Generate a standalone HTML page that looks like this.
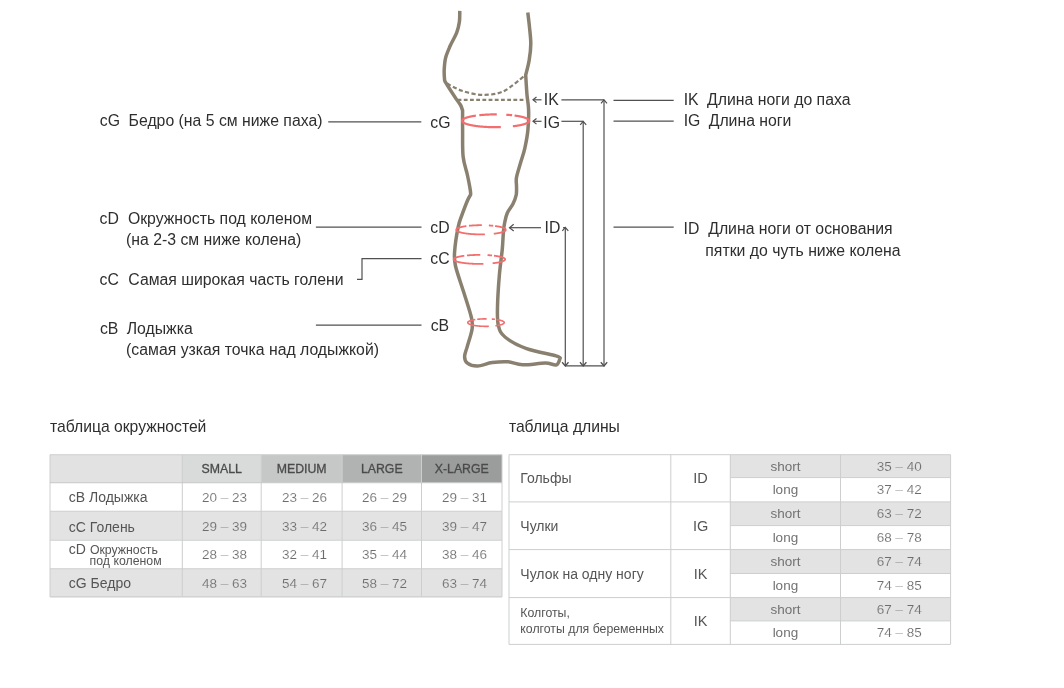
<!DOCTYPE html>
<html><head><meta charset="utf-8"><style>
html,body{margin:0;padding:0;background:#fff;width:1064px;height:688px;overflow:hidden}
svg{position:absolute;left:0;top:0;font-family:"Liberation Sans",sans-serif;will-change:transform}
</style></head><body>
<svg width="1064" height="688" viewBox="0 0 1064 688">
<rect x="50" y="454.7" width="132.3" height="28.0" fill="#e2e2e2"/>
<rect x="182.3" y="454.7" width="78.89999999999998" height="28.0" fill="#d9dbdb"/>
<rect x="261.2" y="454.7" width="80.90000000000003" height="28.0" fill="#c6c7c7"/>
<rect x="342.1" y="454.7" width="79.39999999999998" height="28.0" fill="#b1b2b2"/>
<rect x="421.5" y="454.7" width="80.5" height="28.0" fill="#9b9c9c"/>
<rect x="50" y="482.7" width="452" height="28.600000000000023" fill="#ffffff"/>
<rect x="50" y="511.3" width="452" height="28.900000000000034" fill="#e3e3e3"/>
<rect x="50" y="540.2" width="452" height="28.59999999999991" fill="#ffffff"/>
<rect x="50" y="568.8" width="452" height="28.100000000000023" fill="#e3e3e3"/>
<line x1="50" y1="454.7" x2="50" y2="596.9" stroke="#cdcece" stroke-width="1"/>
<line x1="182.3" y1="454.7" x2="182.3" y2="596.9" stroke="#cdcece" stroke-width="1"/>
<line x1="261.2" y1="454.7" x2="261.2" y2="596.9" stroke="#cdcece" stroke-width="1"/>
<line x1="342.1" y1="454.7" x2="342.1" y2="596.9" stroke="#cdcece" stroke-width="1"/>
<line x1="421.5" y1="454.7" x2="421.5" y2="596.9" stroke="#cdcece" stroke-width="1"/>
<line x1="502" y1="454.7" x2="502" y2="596.9" stroke="#cdcece" stroke-width="1"/>
<line x1="50" y1="454.7" x2="502" y2="454.7" stroke="#cdcece" stroke-width="1.1"/>
<line x1="50" y1="482.7" x2="502" y2="482.7" stroke="#c4c5c5" stroke-width="1.1"/>
<line x1="50" y1="511.3" x2="502" y2="511.3" stroke="#cdcece" stroke-width="1.1"/>
<line x1="50" y1="540.2" x2="502" y2="540.2" stroke="#cdcece" stroke-width="1.1"/>
<line x1="50" y1="568.8" x2="502" y2="568.8" stroke="#cdcece" stroke-width="1.1"/>
<line x1="50" y1="596.9" x2="502" y2="596.9" stroke="#cdcece" stroke-width="1.1"/>
<text x="221.75" y="473.1" font-size="12.3" fill="#4a4a4a" text-anchor="middle" stroke="#4a4a4a" stroke-width="0.3">SMALL</text>
<text x="301.65" y="473.1" font-size="12.3" fill="#4a4a4a" text-anchor="middle" stroke="#4a4a4a" stroke-width="0.3">MEDIUM</text>
<text x="381.8" y="473.1" font-size="12.3" fill="#4a4a4a" text-anchor="middle" stroke="#4a4a4a" stroke-width="0.3">LARGE</text>
<text x="461.75" y="473.1" font-size="12.3" fill="#4a4a4a" text-anchor="middle" stroke="#4a4a4a" stroke-width="0.3">X-LARGE</text>
<text x="224.5" y="501.8" font-size="13.5" fill="#6c6c6c" text-anchor="middle" stroke="#ffffff" stroke-width="0.15">20 – 23</text>
<text x="304.4" y="501.8" font-size="13.5" fill="#6c6c6c" text-anchor="middle" stroke="#ffffff" stroke-width="0.15">23 – 26</text>
<text x="384.55" y="501.8" font-size="13.5" fill="#6c6c6c" text-anchor="middle" stroke="#ffffff" stroke-width="0.15">26 – 29</text>
<text x="464.5" y="501.8" font-size="13.5" fill="#6c6c6c" text-anchor="middle" stroke="#ffffff" stroke-width="0.15">29 – 31</text>
<text x="224.5" y="530.55" font-size="13.5" fill="#6c6c6c" text-anchor="middle" stroke="#e3e3e3" stroke-width="0.15">29 – 39</text>
<text x="304.4" y="530.55" font-size="13.5" fill="#6c6c6c" text-anchor="middle" stroke="#e3e3e3" stroke-width="0.15">33 – 42</text>
<text x="384.55" y="530.55" font-size="13.5" fill="#6c6c6c" text-anchor="middle" stroke="#e3e3e3" stroke-width="0.15">36 – 45</text>
<text x="464.5" y="530.55" font-size="13.5" fill="#6c6c6c" text-anchor="middle" stroke="#e3e3e3" stroke-width="0.15">39 – 47</text>
<text x="224.5" y="559.3" font-size="13.5" fill="#6c6c6c" text-anchor="middle" stroke="#ffffff" stroke-width="0.15">28 – 38</text>
<text x="304.4" y="559.3" font-size="13.5" fill="#6c6c6c" text-anchor="middle" stroke="#ffffff" stroke-width="0.15">32 – 41</text>
<text x="384.55" y="559.3" font-size="13.5" fill="#6c6c6c" text-anchor="middle" stroke="#ffffff" stroke-width="0.15">35 – 44</text>
<text x="464.5" y="559.3" font-size="13.5" fill="#6c6c6c" text-anchor="middle" stroke="#ffffff" stroke-width="0.15">38 – 46</text>
<text x="224.5" y="587.6499999999999" font-size="13.5" fill="#6c6c6c" text-anchor="middle" stroke="#e3e3e3" stroke-width="0.15">48 – 63</text>
<text x="304.4" y="587.6499999999999" font-size="13.5" fill="#6c6c6c" text-anchor="middle" stroke="#e3e3e3" stroke-width="0.15">54 – 67</text>
<text x="384.55" y="587.6499999999999" font-size="13.5" fill="#6c6c6c" text-anchor="middle" stroke="#e3e3e3" stroke-width="0.15">58 – 72</text>
<text x="464.5" y="587.6499999999999" font-size="13.5" fill="#6c6c6c" text-anchor="middle" stroke="#e3e3e3" stroke-width="0.15">63 – 74</text>
<text x="68.8" y="502.3" font-size="14" fill="#555" text-anchor="start" >cB Лодыжка</text>
<text x="68.8" y="532.2" font-size="14" fill="#555" text-anchor="start" >cC Голень</text>
<text x="68.8" y="553.7" font-size="14" fill="#555" text-anchor="start" >cD</text>
<text x="89.9" y="553.7" font-size="12.3" fill="#555" text-anchor="start" >Окружность</text>
<text x="89.6" y="564.7" font-size="12.3" fill="#555" text-anchor="start" >под коленом</text>
<text x="68.8" y="587.5" font-size="14" fill="#555" text-anchor="start" >cG Бедро</text>
<rect x="730.3" y="454.7" width="220.30000000000007" height="22.900000000000034" fill="#e3e3e3"/>
<rect x="730.3" y="477.6" width="220.30000000000007" height="24.299999999999955" fill="#ffffff"/>
<rect x="730.3" y="501.9" width="220.30000000000007" height="23.700000000000045" fill="#e3e3e3"/>
<rect x="730.3" y="525.6" width="220.30000000000007" height="24.0" fill="#ffffff"/>
<rect x="730.3" y="549.6" width="220.30000000000007" height="23.899999999999977" fill="#e3e3e3"/>
<rect x="730.3" y="573.5" width="220.30000000000007" height="24.100000000000023" fill="#ffffff"/>
<rect x="730.3" y="597.6" width="220.30000000000007" height="23.299999999999955" fill="#e3e3e3"/>
<rect x="730.3" y="620.9" width="220.30000000000007" height="23.5" fill="#ffffff"/>
<line x1="509" y1="454.7" x2="509" y2="644.4" stroke="#cdcece" stroke-width="1"/>
<line x1="670.8" y1="454.7" x2="670.8" y2="644.4" stroke="#cdcece" stroke-width="1"/>
<line x1="730.3" y1="454.7" x2="730.3" y2="644.4" stroke="#cdcece" stroke-width="1"/>
<line x1="840.5" y1="454.7" x2="840.5" y2="644.4" stroke="#cdcece" stroke-width="1"/>
<line x1="950.6" y1="454.7" x2="950.6" y2="644.4" stroke="#cdcece" stroke-width="1"/>
<line x1="509" y1="454.7" x2="950.6" y2="454.7" stroke="#cdcece" stroke-width="1"/>
<line x1="730.3" y1="477.6" x2="950.6" y2="477.6" stroke="#cdcece" stroke-width="1"/>
<line x1="509" y1="501.9" x2="950.6" y2="501.9" stroke="#cdcece" stroke-width="1"/>
<line x1="730.3" y1="525.6" x2="950.6" y2="525.6" stroke="#cdcece" stroke-width="1"/>
<line x1="509" y1="549.6" x2="950.6" y2="549.6" stroke="#cdcece" stroke-width="1"/>
<line x1="730.3" y1="573.5" x2="950.6" y2="573.5" stroke="#cdcece" stroke-width="1"/>
<line x1="509" y1="597.6" x2="950.6" y2="597.6" stroke="#cdcece" stroke-width="1"/>
<line x1="730.3" y1="620.9" x2="950.6" y2="620.9" stroke="#cdcece" stroke-width="1"/>
<line x1="509" y1="644.4" x2="950.6" y2="644.4" stroke="#cdcece" stroke-width="1"/>
<text x="520.3" y="482.6" font-size="14" fill="#555" text-anchor="start" >Гольфы</text>
<text x="700.55" y="482.6" font-size="14.5" fill="#555" text-anchor="middle" >ID</text>
<text x="520.3" y="530.6" font-size="14" fill="#555" text-anchor="start" >Чулки</text>
<text x="700.55" y="530.6" font-size="14.5" fill="#555" text-anchor="middle" >IG</text>
<text x="520.3" y="578.5" font-size="14" fill="#555" text-anchor="start" >Чулок на одну ногу</text>
<text x="700.55" y="578.5" font-size="14.5" fill="#555" text-anchor="middle" >IK</text>
<text x="520.3" y="616.6" font-size="12.3" fill="#555" text-anchor="start" >Колготы,</text>
<text x="520.3" y="632.9" font-size="12.3" fill="#555" text-anchor="start" >колготы для беременных</text>
<text x="700.55" y="625.9" font-size="14.5" fill="#555" text-anchor="middle" >IK</text>
<text x="785.4" y="470.75" font-size="13.5" fill="#727272" text-anchor="middle" >short</text>
<text x="899.3" y="470.75" font-size="13.5" fill="#6c6c6c" text-anchor="middle" stroke="#e3e3e3" stroke-width="0.15">35 – 40</text>
<text x="785.4" y="494.35" font-size="13.5" fill="#727272" text-anchor="middle" >long</text>
<text x="899.3" y="494.35" font-size="13.5" fill="#6c6c6c" text-anchor="middle" stroke="#ffffff" stroke-width="0.15">37 – 42</text>
<text x="785.4" y="518.35" font-size="13.5" fill="#727272" text-anchor="middle" >short</text>
<text x="899.3" y="518.35" font-size="13.5" fill="#6c6c6c" text-anchor="middle" stroke="#e3e3e3" stroke-width="0.15">63 – 72</text>
<text x="785.4" y="542.2" font-size="13.5" fill="#727272" text-anchor="middle" >long</text>
<text x="899.3" y="542.2" font-size="13.5" fill="#6c6c6c" text-anchor="middle" stroke="#ffffff" stroke-width="0.15">68 – 78</text>
<text x="785.4" y="566.15" font-size="13.5" fill="#727272" text-anchor="middle" >short</text>
<text x="899.3" y="566.15" font-size="13.5" fill="#6c6c6c" text-anchor="middle" stroke="#e3e3e3" stroke-width="0.15">67 – 74</text>
<text x="785.4" y="590.15" font-size="13.5" fill="#727272" text-anchor="middle" >long</text>
<text x="899.3" y="590.15" font-size="13.5" fill="#6c6c6c" text-anchor="middle" stroke="#ffffff" stroke-width="0.15">74 – 85</text>
<text x="785.4" y="613.85" font-size="13.5" fill="#727272" text-anchor="middle" >short</text>
<text x="899.3" y="613.85" font-size="13.5" fill="#6c6c6c" text-anchor="middle" stroke="#e3e3e3" stroke-width="0.15">67 – 74</text>
<text x="785.4" y="637.25" font-size="13.5" fill="#727272" text-anchor="middle" >long</text>
<text x="899.3" y="637.25" font-size="13.5" fill="#6c6c6c" text-anchor="middle" stroke="#ffffff" stroke-width="0.15">74 – 85</text>
<path d="M459.8,10.9 C459.7,12.7 459.9,18.2 459.4,21.8 C458.9,25.4 458.2,28.7 456.7,32.7 C455.2,36.7 452.0,41.6 450.2,45.8 C448.4,50.0 446.6,53.8 445.6,57.8 C444.6,61.8 444.4,66.3 444.2,70.0 C444.0,73.7 444.5,78.5 444.6,80.2 C444.9,80.7 444.2,80.2 446.2,83.4 C448.1,86.6 453.9,95.5 456.3,99.1 C458.7,102.7 459.4,103.1 460.5,105.0 C461.6,106.9 462.2,109.6 462.6,110.5 C462.6,113.8 462.5,122.3 462.6,130.0 C462.7,137.7 462.3,149.0 463.1,156.5 C463.9,164.0 466.2,169.4 467.4,175.0 C468.6,180.6 469.8,186.9 470.3,190.2 C470.8,193.5 470.6,193.9 470.6,194.7 C470.1,195.7 468.9,197.2 467.4,200.7 C465.9,204.2 463.2,211.4 461.6,215.8 C460.1,220.2 459.3,221.4 458.1,227.4 C456.9,233.4 455.0,245.6 454.6,252.0 C454.2,258.4 454.0,259.4 455.5,266.0 C457.0,272.6 460.8,282.9 463.5,291.6 C466.2,300.3 470.1,311.7 471.5,318.0 C472.9,324.3 472.7,324.7 472.0,329.4 C471.3,334.1 468.5,341.9 467.3,346.4 C466.1,350.9 464.6,353.6 464.6,356.4 C464.6,359.2 465.2,361.5 467.4,363.1 C469.5,364.7 473.4,366.1 477.5,366.0 C481.6,365.9 487.1,363.3 492.2,362.6 C497.3,361.9 502.9,361.4 508.0,361.8 C513.1,362.2 516.4,364.6 522.6,364.8 C528.8,365.0 539.6,363.1 545.2,363.1 C550.9,363.1 554.0,365.7 556.5,364.8 C559.0,363.9 559.6,359.1 560.2,358.0 C559.5,357.6 561.7,357.5 556.0,355.9 C550.3,354.3 534.4,351.4 525.9,348.3 C517.4,345.2 509.6,340.8 505.0,337.0 C500.4,333.2 499.6,330.7 498.4,325.6 C497.1,320.6 497.3,315.2 497.5,306.7 C497.7,298.2 498.6,284.1 499.4,274.6 C500.2,265.2 501.5,257.1 502.2,250.0 C502.9,242.9 503.0,236.7 503.4,232.0 C503.8,227.3 504.1,225.2 504.8,222.0 C505.5,218.8 506.0,216.0 507.3,213.0 C508.6,210.0 511.3,207.2 512.8,204.2 C514.3,201.2 515.6,198.0 516.2,195.0 C516.8,192.0 516.5,188.9 516.5,186.0 C516.5,183.1 515.8,181.2 516.5,177.4 C517.2,173.6 519.1,167.8 520.5,163.0 C521.9,158.2 523.6,153.8 524.8,148.3 C526.0,142.8 527.3,136.4 527.9,130.0 C528.5,123.6 528.8,115.9 528.6,110.0 C528.5,104.1 527.5,100.6 527.0,94.8 C526.5,89.0 525.9,78.4 525.7,75.1 C526.3,72.6 528.4,65.2 529.2,60.0 C530.1,54.8 530.8,49.1 530.8,43.6 C530.8,38.1 530.0,32.5 529.5,27.3 C529.0,22.1 528.1,15.0 527.8,12.5" fill="none" stroke="#8a8070" stroke-width="3.5" stroke-linejoin="round"/>
<path d="M447.1,83.6 C449.6,84.8 456.2,88.9 462.0,90.8 C467.8,92.7 475.2,94.7 482.0,94.8 C488.8,94.9 495.9,94.6 503.0,91.5 C510.1,88.4 520.8,78.6 524.4,76.0" fill="none" stroke="#8a8070" stroke-width="2.2" stroke-dasharray="4.2 2.4"/>
<line x1="457.6" y1="99.8" x2="525.7" y2="99.8" stroke="#8a8070" stroke-width="2.2" stroke-dasharray="3.8 2.4"/>
<path d="M529.10,120.80L529.10,120.74L529.09,120.69L529.09,120.63L529.08,120.58L529.07,120.52L529.05,120.47L529.04,120.41L529.02,120.35L529.00,120.30L528.97,120.24L528.95,120.19L528.92,120.13L528.88,120.08L528.85,120.02L528.81,119.96L528.77,119.91L528.73,119.85L528.69,119.80L528.64,119.74L528.59,119.69L528.54,119.63L528.48,119.58L528.43,119.52L528.37,119.47L528.31,119.41L528.24,119.36L528.17,119.31L528.10,119.25L528.03,119.20L527.96,119.14L527.88,119.09L527.80,119.04L527.72,118.98L527.64,118.93L527.55,118.88L527.46,118.82L527.37,118.77L527.27,118.72L527.18,118.66L527.08,118.61L526.98,118.56L526.87,118.51L526.77,118.45L526.66,118.40L526.55,118.35L526.44,118.30L526.32,118.25L526.20,118.20L526.08,118.15L525.96,118.10L525.84,118.04L525.71,117.99L525.58,117.94L525.45,117.89L525.31,117.84L525.18,117.80L525.04,117.75L524.90,117.70L524.76,117.65L524.61,117.60L524.46,117.55L524.32,117.50L524.16,117.46L524.01,117.41L523.85,117.36L523.70,117.31L523.54,117.27L523.37,117.22L523.21,117.18L523.04,117.13L522.87,117.08L522.70,117.04L522.53,116.99L522.35,116.95L522.18,116.90L522.00,116.86L521.82,116.82L521.63,116.77L521.45,116.73L521.26,116.69L521.07,116.64L520.88,116.60L520.69,116.56L520.50,116.52L520.30,116.48L520.10,116.44L519.90,116.39L519.70,116.35L519.49,116.31L519.29,116.27L519.08,116.24L518.87,116.20L518.66,116.16L518.45,116.12L518.23,116.08L518.02,116.04L517.80,116.01L517.58,115.97L517.36,115.93L517.13,115.90L516.91,115.86L516.68,115.83L516.45,115.79L516.22,115.76L515.99,115.72L515.76,115.69L515.53,115.66L515.29,115.62L515.05,115.59L514.81,115.56L514.57,115.53M512.10,115.23L511.84,115.20L511.58,115.18L511.33,115.15L511.07,115.12L510.81,115.10L510.55,115.07L510.29,115.05L510.02,115.02L509.76,115.00L509.49,114.98L509.23,114.95L508.96,114.93L508.69,114.91L508.42,114.89L508.15,114.87L507.88,114.85L507.61,114.83L507.33,114.81L507.06,114.79L506.78,114.77L506.51,114.75L506.23,114.73M496.77,114.40L496.48,114.40L496.18,114.40L495.89,114.40L495.60,114.40L495.31,114.40L495.02,114.40L494.72,114.40L494.43,114.40L494.14,114.41L493.85,114.41L493.55,114.41L493.26,114.42L492.97,114.42L492.68,114.42L492.39,114.43L492.10,114.44L491.81,114.44L491.52,114.45L491.23,114.45L490.94,114.46L490.65,114.47L490.36,114.48L490.07,114.49L489.78,114.50L489.50,114.51L489.21,114.52L488.92,114.53L488.63,114.54L488.35,114.55L488.06,114.56L487.78,114.58L487.50,114.59L487.21,114.60L486.93,114.62L486.65,114.63L486.37,114.65L486.09,114.66L485.81,114.68L485.53,114.70L485.25,114.71L484.97,114.73L484.69,114.75L484.42,114.77L484.14,114.79L483.87,114.81L483.59,114.83L483.32,114.85L483.05,114.87L482.78,114.89L482.51,114.91L482.24,114.93L481.97,114.95L481.71,114.98L481.44,115.00L481.18,115.02L480.91,115.05L480.65,115.07L480.39,115.10L480.13,115.12L479.87,115.15L479.62,115.18L479.36,115.20M475.91,115.62L475.67,115.66L475.44,115.69L475.21,115.72L474.98,115.76L474.75,115.79L474.52,115.83L474.29,115.86L474.07,115.90L473.84,115.93L473.62,115.97L473.40,116.01L473.18,116.04L472.97,116.08L472.75,116.12L472.54,116.16L472.33,116.20L472.12,116.24L471.91,116.27L471.71,116.31L471.50,116.35L471.30,116.39L471.10,116.44L470.90,116.48L470.70,116.52L470.51,116.56L470.32,116.60L470.13,116.64L469.94,116.69L469.75,116.73L469.57,116.77L469.38,116.82L469.20,116.86L469.02,116.90L468.85,116.95L468.67,116.99L468.50,117.04L468.33,117.08L468.16,117.13L467.99,117.18L467.83,117.22L467.66,117.27L467.50,117.31L467.35,117.36L467.19,117.41L467.04,117.46L466.88,117.50L466.74,117.55L466.59,117.60L466.44,117.65L466.30,117.70L466.16,117.75L466.02,117.80L465.89,117.84L465.75,117.89L465.62,117.94L465.49,117.99L465.36,118.04L465.24,118.10L465.12,118.15L465.00,118.20L464.88,118.25L464.76,118.30L464.65,118.35L464.54,118.40L464.43,118.45L464.33,118.51L464.22,118.56L464.12,118.61L464.02,118.66L463.93,118.72L463.83,118.77L463.74,118.82L463.65,118.88L463.56,118.93L463.48,118.98L463.40,119.04L463.32,119.09L463.24,119.14L463.17,119.20L463.10,119.25L463.03,119.31L462.96,119.36L462.89,119.41L462.83,119.47L462.77,119.52L462.72,119.58L462.66,119.63L462.61,119.69L462.56,119.74L462.51,119.80L462.47,119.85L462.43,119.91L462.39,119.96L462.35,120.02L462.32,120.08L462.28,120.13L462.25,120.19L462.23,120.24L462.20,120.30L462.18,120.35L462.16,120.41L462.15,120.47L462.13,120.52L462.12,120.58L462.11,120.63L462.11,120.69L462.10,120.74L462.10,120.80L462.10,120.86L462.11,120.91L462.11,120.97L462.12,121.02L462.13,121.08L462.15,121.13L462.16,121.19L462.18,121.25L462.20,121.30L462.23,121.36L462.25,121.41L462.28,121.47L462.32,121.52L462.35,121.58L462.39,121.64L462.43,121.69L462.47,121.75L462.51,121.80L462.56,121.86L462.61,121.91L462.66,121.97L462.72,122.02L462.77,122.08L462.83,122.13L462.89,122.19L462.96,122.24L463.03,122.29L463.10,122.35L463.17,122.40L463.24,122.46L463.32,122.51L463.40,122.56L463.48,122.62L463.56,122.67L463.65,122.72L463.74,122.78L463.83,122.83L463.93,122.88L464.02,122.94L464.12,122.99L464.22,123.04L464.33,123.09L464.43,123.15L464.54,123.20L464.65,123.25L464.76,123.30L464.88,123.35L465.00,123.40L465.12,123.45L465.24,123.50L465.36,123.56L465.49,123.61L465.62,123.66L465.75,123.71L465.89,123.76L466.02,123.80L466.16,123.85L466.30,123.90L466.44,123.95L466.59,124.00L466.74,124.05L466.88,124.10L467.04,124.14L467.19,124.19L467.35,124.24L467.50,124.29L467.66,124.33L467.83,124.38L467.99,124.42L468.16,124.47L468.33,124.52L468.50,124.56L468.67,124.61L468.85,124.65L469.02,124.70L469.20,124.74L469.38,124.78L469.57,124.83L469.75,124.87L469.94,124.91L470.13,124.96L470.32,125.00L470.51,125.04L470.70,125.08L470.90,125.12L471.10,125.16L471.30,125.21L471.50,125.25L471.71,125.29L471.91,125.33L472.12,125.36L472.33,125.40L472.54,125.44L472.75,125.48L472.97,125.52L473.18,125.56L473.40,125.59L473.62,125.63L473.84,125.67L474.07,125.70L474.29,125.74L474.52,125.77L474.75,125.81L474.98,125.84L475.21,125.88L475.44,125.91L475.67,125.94L475.91,125.98L476.15,126.01L476.39,126.04L476.63,126.07L476.87,126.11L477.11,126.14L477.35,126.17L477.60,126.20L477.85,126.23L478.10,126.26L478.35,126.29L478.60,126.31L478.85,126.34L479.10,126.37L479.36,126.40L479.62,126.42L479.87,126.45L480.13,126.48L480.39,126.50L480.65,126.53L480.91,126.55L481.18,126.58L481.44,126.60L481.71,126.62L481.97,126.65L482.24,126.67L482.51,126.69L482.78,126.71L483.05,126.73L483.32,126.75L483.59,126.77L483.87,126.79L484.14,126.81L484.42,126.83L484.69,126.85L484.97,126.87L485.25,126.89L485.53,126.90L485.81,126.92L486.09,126.94L486.37,126.95L486.65,126.97L486.93,126.98L487.21,127.00L487.50,127.01L487.78,127.02L488.06,127.04L488.35,127.05L488.63,127.06L488.92,127.07L489.21,127.08L489.50,127.09L489.78,127.10L490.07,127.11L490.36,127.12L490.65,127.13L490.94,127.14L491.23,127.15L491.52,127.15L491.81,127.16L492.10,127.16L492.39,127.17L492.68,127.18L492.97,127.18L493.26,127.18L493.55,127.19L493.85,127.19L494.14,127.19L494.43,127.20L494.72,127.20L495.02,127.20L495.31,127.20L495.60,127.20L495.89,127.20L496.18,127.20L496.48,127.20L496.77,127.20L497.06,127.19L497.35,127.19L497.65,127.19L497.94,127.18L498.23,127.18L498.52,127.18L498.81,127.17L499.10,127.16L499.39,127.16L499.68,127.15L499.97,127.15L500.26,127.14L500.55,127.13L500.84,127.12M512.85,126.29L513.10,126.26L513.35,126.23L513.60,126.20L513.85,126.17L514.09,126.14L514.33,126.11L514.57,126.07L514.81,126.04L515.05,126.01L515.29,125.98L515.53,125.94L515.76,125.91L515.99,125.88L516.22,125.84L516.45,125.81L516.68,125.77L516.91,125.74L517.13,125.70L517.36,125.67L517.58,125.63L517.80,125.59L518.02,125.56L518.23,125.52L518.45,125.48L518.66,125.44L518.87,125.40L519.08,125.36L519.29,125.33L519.49,125.29L519.70,125.25L519.90,125.21L520.10,125.16L520.30,125.12L520.50,125.08L520.69,125.04L520.88,125.00L521.07,124.96L521.26,124.91L521.45,124.87L521.63,124.83L521.82,124.78L522.00,124.74L522.18,124.70L522.35,124.65L522.53,124.61L522.70,124.56L522.87,124.52L523.04,124.47L523.21,124.42L523.37,124.38L523.54,124.33L523.70,124.29L523.85,124.24L524.01,124.19L524.16,124.14L524.32,124.10L524.46,124.05L524.61,124.00L524.76,123.95L524.90,123.90L525.04,123.85L525.18,123.80L525.31,123.76L525.45,123.71L525.58,123.66L525.71,123.61L525.84,123.56L525.96,123.50L526.08,123.45L526.20,123.40L526.32,123.35L526.44,123.30L526.55,123.25L526.66,123.20L526.77,123.15L526.87,123.09L526.98,123.04L527.08,122.99L527.18,122.94L527.27,122.88L527.37,122.83L527.46,122.78L527.55,122.72L527.64,122.67L527.72,122.62L527.80,122.56L527.88,122.51L527.96,122.46L528.03,122.40L528.10,122.35L528.17,122.29L528.24,122.24L528.31,122.19L528.37,122.13L528.43,122.08L528.48,122.02L528.54,121.97L528.59,121.91L528.64,121.86L528.69,121.80L528.73,121.75L528.77,121.69L528.81,121.64L528.85,121.58L528.88,121.52L528.92,121.47L528.95,121.41L528.97,121.36L529.00,121.30L529.02,121.25L529.04,121.19L529.05,121.13L529.07,121.08L529.08,121.02L529.09,120.97L529.09,120.91L529.10,120.86L529.10,120.80" fill="none" stroke="#f36f6f" stroke-width="2.2" stroke-linecap="butt"/>
<path d="M505.80,229.80L505.80,229.76L505.80,229.72L505.79,229.68L505.78,229.64L505.78,229.60L505.77,229.56L505.75,229.52L505.74,229.48L505.72,229.44L505.71,229.40L505.69,229.36L505.66,229.32L505.64,229.28L505.62,229.24L505.59,229.20L505.56,229.16L505.53,229.12L505.49,229.08L505.46,229.04L505.42,229.00L505.38,228.96L505.34,228.92L505.30,228.88L505.26,228.84L505.21,228.80L505.16,228.77L505.11,228.73L505.06,228.69L505.01,228.65L504.95,228.61L504.90,228.57L504.84,228.53L504.78,228.49L504.72,228.46L504.65,228.42L504.59,228.38L504.52,228.34L504.45,228.30L504.38,228.26L504.30,228.23L504.23,228.19L504.15,228.15L504.07,228.11L503.99,228.08L503.91,228.04L503.83,228.00L503.74,227.97L503.66,227.93L503.57,227.89L503.48,227.86L503.38,227.82L503.29,227.78L503.19,227.75L503.10,227.71L503.00,227.68L502.90,227.64L502.79,227.61L502.69,227.57L502.58,227.53L502.48,227.50L502.37,227.47L502.26,227.43L502.15,227.40L502.03,227.36L501.92,227.33L501.80,227.29L501.68,227.26L501.56,227.23L501.44,227.19L501.31,227.16L501.19,227.13L501.06,227.10L500.94,227.06L500.81,227.03L500.68,227.00L500.54,226.97L500.41,226.94L500.27,226.91L500.14,226.87L500.00,226.84L499.86,226.81L499.72,226.78L499.57,226.75L499.43,226.72L499.28,226.69L499.14,226.66L498.99,226.63L498.84,226.60L498.69,226.58L498.54,226.55L498.38,226.52L498.23,226.49L498.07,226.46L497.91,226.44L497.75,226.41L497.59,226.38L497.43,226.35L497.27,226.33L497.11,226.30L496.94,226.28L496.77,226.25L496.61,226.23L496.44,226.20L496.27,226.18L496.10,226.15L495.93,226.13L495.75,226.10L495.58,226.08L495.40,226.06L495.22,226.03L495.05,226.01M493.21,225.80L493.02,225.78L492.83,225.76L492.64,225.74L492.45,225.72L492.26,225.70L492.07,225.68L491.87,225.67L491.68,225.65L491.48,225.63L491.28,225.61L491.09,225.60L490.89,225.58L490.69,225.57L490.49,225.55L490.29,225.53L490.09,225.52L489.89,225.51L489.69,225.49L489.48,225.48L489.28,225.46L489.07,225.45L488.87,225.44M481.87,225.20L481.65,225.20L481.43,225.20L481.22,225.20L481.00,225.20L480.78,225.20L480.57,225.20L480.35,225.20L480.13,225.20L479.92,225.20L479.70,225.21L479.49,225.21L479.27,225.21L479.05,225.21L478.84,225.22L478.62,225.22L478.41,225.23L478.19,225.23L477.98,225.23L477.76,225.24L477.55,225.24L477.33,225.25L477.12,225.26L476.91,225.26L476.69,225.27L476.48,225.28L476.27,225.28L476.06,225.29L475.84,225.30L475.63,225.31L475.42,225.32L475.21,225.33L475.00,225.34L474.79,225.35L474.58,225.36L474.37,225.37L474.16,225.38L473.96,225.39L473.75,225.40L473.54,225.41L473.34,225.43L473.13,225.44L472.93,225.45L472.72,225.46L472.52,225.48L472.31,225.49L472.11,225.51L471.91,225.52L471.71,225.53L471.51,225.55L471.31,225.57L471.11,225.58L470.91,225.60L470.72,225.61L470.52,225.63L470.32,225.65L470.13,225.67L469.93,225.68L469.74,225.70L469.55,225.72L469.36,225.74L469.17,225.76L468.98,225.78M466.42,226.08L466.25,226.10L466.07,226.13L465.90,226.15L465.73,226.18L465.56,226.20L465.39,226.23L465.23,226.25L465.06,226.28L464.89,226.30L464.73,226.33L464.57,226.35L464.41,226.38L464.25,226.41L464.09,226.44L463.93,226.46L463.77,226.49L463.62,226.52L463.46,226.55L463.31,226.58L463.16,226.60L463.01,226.63L462.86,226.66L462.72,226.69L462.57,226.72L462.43,226.75L462.28,226.78L462.14,226.81L462.00,226.84L461.86,226.87L461.73,226.91L461.59,226.94L461.46,226.97L461.32,227.00L461.19,227.03L461.06,227.06L460.94,227.10L460.81,227.13L460.69,227.16L460.56,227.19L460.44,227.23L460.32,227.26L460.20,227.29L460.08,227.33L459.97,227.36L459.85,227.40L459.74,227.43L459.63,227.47L459.52,227.50L459.42,227.53L459.31,227.57L459.21,227.61L459.10,227.64L459.00,227.68L458.90,227.71L458.81,227.75L458.71,227.78L458.62,227.82L458.52,227.86L458.43,227.89L458.34,227.93L458.26,227.97L458.17,228.00L458.09,228.04L458.01,228.08L457.93,228.11L457.85,228.15L457.77,228.19L457.70,228.23L457.62,228.26L457.55,228.30L457.48,228.34L457.41,228.38L457.35,228.42L457.28,228.46L457.22,228.49L457.16,228.53L457.10,228.57L457.05,228.61L456.99,228.65L456.94,228.69L456.89,228.73L456.84,228.77L456.79,228.80L456.74,228.84L456.70,228.88L456.66,228.92L456.62,228.96L456.58,229.00L456.54,229.04L456.51,229.08L456.47,229.12L456.44,229.16L456.41,229.20L456.38,229.24L456.36,229.28L456.34,229.32L456.31,229.36L456.29,229.40L456.28,229.44L456.26,229.48L456.25,229.52L456.23,229.56L456.22,229.60L456.22,229.64L456.21,229.68L456.20,229.72L456.20,229.76L456.20,229.80L456.20,229.84L456.20,229.88L456.21,229.92L456.22,229.96L456.22,230.00L456.23,230.04L456.25,230.08L456.26,230.12L456.28,230.16L456.29,230.20L456.31,230.24L456.34,230.28L456.36,230.32L456.38,230.36L456.41,230.40L456.44,230.44L456.47,230.48L456.51,230.52L456.54,230.56L456.58,230.60L456.62,230.64L456.66,230.68L456.70,230.72L456.74,230.76L456.79,230.80L456.84,230.83L456.89,230.87L456.94,230.91L456.99,230.95L457.05,230.99L457.10,231.03L457.16,231.07L457.22,231.11L457.28,231.14L457.35,231.18L457.41,231.22L457.48,231.26L457.55,231.30L457.62,231.34L457.70,231.37L457.77,231.41L457.85,231.45L457.93,231.49L458.01,231.52L458.09,231.56L458.17,231.60L458.26,231.63L458.34,231.67L458.43,231.71L458.52,231.74L458.62,231.78L458.71,231.82L458.81,231.85L458.90,231.89L459.00,231.92L459.10,231.96L459.21,231.99L459.31,232.03L459.42,232.07L459.52,232.10L459.63,232.13L459.74,232.17L459.85,232.20L459.97,232.24L460.08,232.27L460.20,232.31L460.32,232.34L460.44,232.37L460.56,232.41L460.69,232.44L460.81,232.47L460.94,232.50L461.06,232.54L461.19,232.57L461.32,232.60L461.46,232.63L461.59,232.66L461.73,232.69L461.86,232.73L462.00,232.76L462.14,232.79L462.28,232.82L462.43,232.85L462.57,232.88L462.72,232.91L462.86,232.94L463.01,232.97L463.16,233.00L463.31,233.02L463.46,233.05L463.62,233.08L463.77,233.11L463.93,233.14L464.09,233.16L464.25,233.19L464.41,233.22L464.57,233.25L464.73,233.27L464.89,233.30L465.06,233.32L465.23,233.35L465.39,233.37L465.56,233.40L465.73,233.42L465.90,233.45L466.07,233.47L466.25,233.50L466.42,233.52L466.60,233.54L466.78,233.57L466.95,233.59L467.13,233.61L467.31,233.64L467.49,233.66L467.67,233.68L467.86,233.70L468.04,233.72L468.23,233.74L468.41,233.76L468.60,233.78L468.79,233.80L468.98,233.82L469.17,233.84L469.36,233.86L469.55,233.88L469.74,233.90L469.93,233.92L470.13,233.93L470.32,233.95L470.52,233.97L470.72,233.99L470.91,234.00L471.11,234.02L471.31,234.03L471.51,234.05L471.71,234.07L471.91,234.08L472.11,234.09L472.31,234.11L472.52,234.12L472.72,234.14L472.93,234.15L473.13,234.16L473.34,234.17L473.54,234.19L473.75,234.20L473.96,234.21L474.16,234.22L474.37,234.23L474.58,234.24L474.79,234.25L475.00,234.26L475.21,234.27L475.42,234.28L475.63,234.29L475.84,234.30L476.06,234.31L476.27,234.32L476.48,234.32L476.69,234.33L476.91,234.34L477.12,234.34L477.33,234.35L477.55,234.36L477.76,234.36L477.98,234.37L478.19,234.37L478.41,234.37L478.62,234.38L478.84,234.38L479.05,234.39L479.27,234.39L479.49,234.39L479.70,234.39L479.92,234.40L480.13,234.40L480.35,234.40L480.57,234.40L480.78,234.40L481.00,234.40L481.22,234.40L481.43,234.40L481.65,234.40L481.87,234.40L482.08,234.40L482.30,234.39L482.51,234.39L482.73,234.39L482.95,234.39L483.16,234.38L483.38,234.38L483.59,234.37L483.81,234.37L484.02,234.37L484.24,234.36L484.45,234.36L484.67,234.35L484.88,234.34M493.77,233.74L493.96,233.72L494.14,233.70L494.33,233.68L494.51,233.66L494.69,233.64L494.87,233.61L495.05,233.59L495.22,233.57L495.40,233.54L495.58,233.52L495.75,233.50L495.93,233.47L496.10,233.45L496.27,233.42L496.44,233.40L496.61,233.37L496.77,233.35L496.94,233.32L497.11,233.30L497.27,233.27L497.43,233.25L497.59,233.22L497.75,233.19L497.91,233.16L498.07,233.14L498.23,233.11L498.38,233.08L498.54,233.05L498.69,233.02L498.84,233.00L498.99,232.97L499.14,232.94L499.28,232.91L499.43,232.88L499.57,232.85L499.72,232.82L499.86,232.79L500.00,232.76L500.14,232.73L500.27,232.69L500.41,232.66L500.54,232.63L500.68,232.60L500.81,232.57L500.94,232.54L501.06,232.50L501.19,232.47L501.31,232.44L501.44,232.41L501.56,232.37L501.68,232.34L501.80,232.31L501.92,232.27L502.03,232.24L502.15,232.20L502.26,232.17L502.37,232.13L502.48,232.10L502.58,232.07L502.69,232.03L502.79,231.99L502.90,231.96L503.00,231.92L503.10,231.89L503.19,231.85L503.29,231.82L503.38,231.78L503.48,231.74L503.57,231.71L503.66,231.67L503.74,231.63L503.83,231.60L503.91,231.56L503.99,231.52L504.07,231.49L504.15,231.45L504.23,231.41L504.30,231.37L504.38,231.34L504.45,231.30L504.52,231.26L504.59,231.22L504.65,231.18L504.72,231.14L504.78,231.11L504.84,231.07L504.90,231.03L504.95,230.99L505.01,230.95L505.06,230.91L505.11,230.87L505.16,230.83L505.21,230.80L505.26,230.76L505.30,230.72L505.34,230.68L505.38,230.64L505.42,230.60L505.46,230.56L505.49,230.52L505.53,230.48L505.56,230.44L505.59,230.40L505.62,230.36L505.64,230.32L505.66,230.28L505.69,230.24L505.71,230.20L505.72,230.16L505.74,230.12L505.75,230.08L505.77,230.04L505.78,230.00L505.78,229.96L505.79,229.92L505.80,229.88L505.80,229.84L505.80,229.80" fill="none" stroke="#f36f6f" stroke-width="1.8" stroke-linecap="butt"/>
<path d="M505.10,259.40L505.10,259.36L505.10,259.32L505.09,259.28L505.08,259.24L505.08,259.20L505.06,259.16L505.05,259.13L505.04,259.09L505.02,259.05L505.00,259.01L504.98,258.97L504.96,258.93L504.93,258.89L504.91,258.85L504.88,258.81L504.85,258.77L504.82,258.73L504.78,258.70L504.75,258.66L504.71,258.62L504.67,258.58L504.63,258.54L504.58,258.50L504.54,258.46L504.49,258.43L504.44,258.39L504.39,258.35L504.34,258.31L504.28,258.27L504.22,258.24L504.17,258.20L504.10,258.16L504.04,258.12L503.98,258.08L503.91,258.05L503.84,258.01L503.77,257.97L503.70,257.93L503.63,257.90L503.55,257.86L503.47,257.82L503.39,257.79L503.31,257.75L503.23,257.71L503.14,257.68L503.06,257.64L502.97,257.61L502.88,257.57L502.79,257.53L502.69,257.50L502.60,257.46L502.50,257.43L502.40,257.39L502.30,257.36L502.20,257.32L502.09,257.29L501.99,257.25L501.88,257.22L501.77,257.18L501.66,257.15L501.54,257.12L501.43,257.08L501.31,257.05L501.19,257.02L501.08,256.98L500.95,256.95L500.83,256.92L500.71,256.88L500.58,256.85L500.45,256.82L500.32,256.79L500.19,256.75L500.06,256.72L499.92,256.69L499.79,256.66L499.65,256.63L499.51,256.60L499.37,256.57L499.23,256.54L499.09,256.51L498.94,256.48L498.80,256.45L498.65,256.42L498.50,256.39L498.35,256.36L498.20,256.33L498.04,256.30L497.89,256.27L497.73,256.25L497.57,256.22L497.41,256.19L497.25,256.16L497.09,256.14L496.93,256.11L496.76,256.08L496.60,256.06L496.43,256.03L496.26,256.00L496.09,255.98L495.92,255.95L495.75,255.93L495.57,255.90L495.40,255.88L495.22,255.85L495.05,255.83L494.87,255.81L494.69,255.78L494.51,255.76L494.32,255.74L494.14,255.71L493.96,255.69M492.06,255.48L491.86,255.46L491.66,255.45L491.47,255.43L491.27,255.41L491.07,255.39L490.87,255.37L490.67,255.36L490.46,255.34L490.26,255.32L490.06,255.31L489.85,255.29L489.65,255.27L489.44,255.26L489.23,255.24L489.03,255.23L488.82,255.21L488.61,255.20L488.40,255.18L488.19,255.17L487.98,255.16L487.77,255.15L487.55,255.13M480.30,254.90L480.07,254.90L479.85,254.90L479.62,254.90L479.40,254.90L479.18,254.90L478.95,254.90L478.73,254.90L478.50,254.90L478.28,254.90L478.05,254.91L477.83,254.91L477.61,254.91L477.38,254.91L477.16,254.92L476.94,254.92L476.71,254.92L476.49,254.93L476.27,254.93L476.05,254.94L475.82,254.94L475.60,254.95L475.38,254.96L475.16,254.96L474.94,254.97L474.72,254.98L474.50,254.98L474.28,254.99L474.06,255.00L473.84,255.01L473.62,255.02L473.40,255.02L473.18,255.03L472.97,255.04L472.75,255.05L472.53,255.06L472.32,255.07L472.10,255.09L471.89,255.10L471.67,255.11L471.46,255.12L471.25,255.13L471.03,255.15L470.82,255.16L470.61,255.17L470.40,255.18L470.19,255.20L469.98,255.21L469.77,255.23L469.57,255.24L469.36,255.26L469.15,255.27L468.95,255.29L468.74,255.31L468.54,255.32L468.34,255.34L468.13,255.36L467.93,255.37L467.73,255.39L467.53,255.41L467.33,255.43L467.14,255.45L466.94,255.46M464.29,255.76L464.11,255.78L463.93,255.81L463.75,255.83L463.58,255.85L463.40,255.88L463.23,255.90L463.05,255.93L462.88,255.95L462.71,255.98L462.54,256.00L462.37,256.03L462.20,256.06L462.04,256.08L461.87,256.11L461.71,256.14L461.55,256.16L461.39,256.19L461.23,256.22L461.07,256.25L460.91,256.27L460.76,256.30L460.60,256.33L460.45,256.36L460.30,256.39L460.15,256.42L460.00,256.45L459.86,256.48L459.71,256.51L459.57,256.54L459.43,256.57L459.29,256.60L459.15,256.63L459.01,256.66L458.88,256.69L458.74,256.72L458.61,256.75L458.48,256.79L458.35,256.82L458.22,256.85L458.09,256.88L457.97,256.92L457.85,256.95L457.72,256.98L457.61,257.02L457.49,257.05L457.37,257.08L457.26,257.12L457.14,257.15L457.03,257.18L456.92,257.22L456.81,257.25L456.71,257.29L456.60,257.32L456.50,257.36L456.40,257.39L456.30,257.43L456.20,257.46L456.11,257.50L456.01,257.53L455.92,257.57L455.83,257.61L455.74,257.64L455.66,257.68L455.57,257.71L455.49,257.75L455.41,257.79L455.33,257.82L455.25,257.86L455.17,257.90L455.10,257.93L455.03,257.97L454.96,258.01L454.89,258.05L454.82,258.08L454.76,258.12L454.70,258.16L454.63,258.20L454.58,258.24L454.52,258.27L454.46,258.31L454.41,258.35L454.36,258.39L454.31,258.43L454.26,258.46L454.22,258.50L454.17,258.54L454.13,258.58L454.09,258.62L454.05,258.66L454.02,258.70L453.98,258.73L453.95,258.77L453.92,258.81L453.89,258.85L453.87,258.89L453.84,258.93L453.82,258.97L453.80,259.01L453.78,259.05L453.76,259.09L453.75,259.13L453.74,259.16L453.72,259.20L453.72,259.24L453.71,259.28L453.70,259.32L453.70,259.36L453.70,259.40L453.70,259.44L453.70,259.48L453.71,259.52L453.72,259.56L453.72,259.60L453.74,259.64L453.75,259.67L453.76,259.71L453.78,259.75L453.80,259.79L453.82,259.83L453.84,259.87L453.87,259.91L453.89,259.95L453.92,259.99L453.95,260.03L453.98,260.07L454.02,260.10L454.05,260.14L454.09,260.18L454.13,260.22L454.17,260.26L454.22,260.30L454.26,260.34L454.31,260.37L454.36,260.41L454.41,260.45L454.46,260.49L454.52,260.53L454.58,260.56L454.63,260.60L454.70,260.64L454.76,260.68L454.82,260.72L454.89,260.75L454.96,260.79L455.03,260.83L455.10,260.87L455.17,260.90L455.25,260.94L455.33,260.98L455.41,261.01L455.49,261.05L455.57,261.09L455.66,261.12L455.74,261.16L455.83,261.19L455.92,261.23L456.01,261.27L456.11,261.30L456.20,261.34L456.30,261.37L456.40,261.41L456.50,261.44L456.60,261.48L456.71,261.51L456.81,261.55L456.92,261.58L457.03,261.62L457.14,261.65L457.26,261.68L457.37,261.72L457.49,261.75L457.61,261.78L457.72,261.82L457.85,261.85L457.97,261.88L458.09,261.92L458.22,261.95L458.35,261.98L458.48,262.01L458.61,262.05L458.74,262.08L458.88,262.11L459.01,262.14L459.15,262.17L459.29,262.20L459.43,262.23L459.57,262.26L459.71,262.29L459.86,262.32L460.00,262.35L460.15,262.38L460.30,262.41L460.45,262.44L460.60,262.47L460.76,262.50L460.91,262.53L461.07,262.55L461.23,262.58L461.39,262.61L461.55,262.64L461.71,262.66L461.87,262.69L462.04,262.72L462.20,262.74L462.37,262.77L462.54,262.80L462.71,262.82L462.88,262.85L463.05,262.87L463.23,262.90L463.40,262.92L463.58,262.95L463.75,262.97L463.93,262.99L464.11,263.02L464.29,263.04L464.48,263.06L464.66,263.09L464.84,263.11L465.03,263.13L465.22,263.15L465.40,263.17L465.59,263.20L465.78,263.22L465.97,263.24L466.16,263.26L466.36,263.28L466.55,263.30L466.74,263.32L466.94,263.34L467.14,263.35L467.33,263.37L467.53,263.39L467.73,263.41L467.93,263.43L468.13,263.44L468.34,263.46L468.54,263.48L468.74,263.49L468.95,263.51L469.15,263.53L469.36,263.54L469.57,263.56L469.77,263.57L469.98,263.59L470.19,263.60L470.40,263.62L470.61,263.63L470.82,263.64L471.03,263.65L471.25,263.67L471.46,263.68L471.67,263.69L471.89,263.70L472.10,263.71L472.32,263.73L472.53,263.74L472.75,263.75L472.97,263.76L473.18,263.77L473.40,263.78L473.62,263.78L473.84,263.79L474.06,263.80L474.28,263.81L474.50,263.82L474.72,263.82L474.94,263.83L475.16,263.84L475.38,263.84L475.60,263.85L475.82,263.86L476.05,263.86L476.27,263.87L476.49,263.87L476.71,263.88L476.94,263.88L477.16,263.88L477.38,263.89L477.61,263.89L477.83,263.89L478.05,263.89L478.28,263.90L478.50,263.90L478.73,263.90L478.95,263.90L479.18,263.90L479.40,263.90L479.62,263.90L479.85,263.90L480.07,263.90L480.30,263.90L480.52,263.90L480.75,263.89L480.97,263.89L481.19,263.89L481.42,263.89L481.64,263.88L481.86,263.88L482.09,263.88L482.31,263.87L482.53,263.87L482.75,263.86L482.98,263.86L483.20,263.85L483.42,263.84M492.64,263.26L492.83,263.24L493.02,263.22L493.21,263.20L493.40,263.17L493.58,263.15L493.77,263.13L493.96,263.11L494.14,263.09L494.32,263.06L494.51,263.04L494.69,263.02L494.87,262.99L495.05,262.97L495.22,262.95L495.40,262.92L495.57,262.90L495.75,262.87L495.92,262.85L496.09,262.82L496.26,262.80L496.43,262.77L496.60,262.74L496.76,262.72L496.93,262.69L497.09,262.66L497.25,262.64L497.41,262.61L497.57,262.58L497.73,262.55L497.89,262.53L498.04,262.50L498.20,262.47L498.35,262.44L498.50,262.41L498.65,262.38L498.80,262.35L498.94,262.32L499.09,262.29L499.23,262.26L499.37,262.23L499.51,262.20L499.65,262.17L499.79,262.14L499.92,262.11L500.06,262.08L500.19,262.05L500.32,262.01L500.45,261.98L500.58,261.95L500.71,261.92L500.83,261.88L500.95,261.85L501.08,261.82L501.19,261.78L501.31,261.75L501.43,261.72L501.54,261.68L501.66,261.65L501.77,261.62L501.88,261.58L501.99,261.55L502.09,261.51L502.20,261.48L502.30,261.44L502.40,261.41L502.50,261.37L502.60,261.34L502.69,261.30L502.79,261.27L502.88,261.23L502.97,261.19L503.06,261.16L503.14,261.12L503.23,261.09L503.31,261.05L503.39,261.01L503.47,260.98L503.55,260.94L503.63,260.90L503.70,260.87L503.77,260.83L503.84,260.79L503.91,260.75L503.98,260.72L504.04,260.68L504.10,260.64L504.17,260.60L504.22,260.56L504.28,260.53L504.34,260.49L504.39,260.45L504.44,260.41L504.49,260.37L504.54,260.34L504.58,260.30L504.63,260.26L504.67,260.22L504.71,260.18L504.75,260.14L504.78,260.10L504.82,260.07L504.85,260.03L504.88,259.99L504.91,259.95L504.93,259.91L504.96,259.87L504.98,259.83L505.00,259.79L505.02,259.75L505.04,259.71L505.05,259.67L505.06,259.64L505.08,259.60L505.08,259.56L505.09,259.52L505.10,259.48L505.10,259.44L505.10,259.40" fill="none" stroke="#f36f6f" stroke-width="1.8" stroke-linecap="butt"/>
<path d="M504.20,322.60L504.20,322.57L504.20,322.53L504.19,322.50L504.19,322.47L504.18,322.44L504.18,322.40L504.17,322.37L504.16,322.34L504.14,322.31L504.13,322.27L504.12,322.24L504.10,322.21L504.08,322.18L504.06,322.14L504.04,322.11L504.02,322.08L504.00,322.05L503.98,322.01L503.95,321.98L503.92,321.95L503.90,321.92L503.87,321.88L503.83,321.85L503.80,321.82L503.77,321.79L503.73,321.76L503.70,321.72L503.66,321.69L503.62,321.66L503.58,321.63L503.54,321.60L503.49,321.57L503.45,321.53L503.40,321.50L503.36,321.47L503.31,321.44L503.26,321.41L503.21,321.38L503.16,321.35L503.10,321.32L503.05,321.29L502.99,321.26L502.93,321.23L502.87,321.20L502.81,321.16L502.75,321.13L502.69,321.10L502.63,321.07L502.56,321.04L502.49,321.02L502.43,320.99L502.36,320.96L502.29,320.93L502.22,320.90L502.14,320.87L502.07,320.84L501.99,320.81L501.92,320.78L501.84,320.75L501.76,320.73L501.68,320.70L501.60,320.67L501.52,320.64L501.43,320.61L501.35,320.59L501.26,320.56L501.18,320.53L501.09,320.50L501.00,320.48L500.91,320.45L500.82,320.42L500.72,320.40L500.63,320.37L500.54,320.34L500.44,320.32L500.34,320.29L500.24,320.27L500.14,320.24L500.04,320.21L499.94,320.19L499.84,320.16L499.74,320.14L499.63,320.12L499.53,320.09L499.42,320.07L499.31,320.04L499.20,320.02L499.09,320.00L498.98,319.97L498.87,319.95L498.76,319.93L498.64,319.90L498.53,319.88L498.41,319.86L498.30,319.84L498.18,319.81L498.06,319.79L497.94,319.77L497.82,319.75L497.70,319.73L497.58,319.71L497.45,319.69L497.33,319.67L497.21,319.64L497.08,319.62L496.95,319.61L496.83,319.59L496.70,319.57L496.57,319.55L496.44,319.53L496.31,319.51M494.96,319.34L494.82,319.32L494.68,319.30L494.54,319.29L494.40,319.27L494.26,319.26L494.12,319.24L493.98,319.23L493.84,319.22L493.69,319.20L493.55,319.19L493.40,319.17L493.26,319.16L493.11,319.15L492.96,319.14L492.82,319.12L492.67,319.11L492.52,319.10L492.37,319.09L492.22,319.08L492.08,319.07L491.93,319.05L491.77,319.04M486.64,318.85L486.48,318.85L486.32,318.85L486.16,318.85L486.00,318.85L485.84,318.85L485.68,318.85L485.52,318.85L485.36,318.85L485.21,318.85L485.05,318.86L484.89,318.86L484.73,318.86L484.57,318.86L484.41,318.86L484.26,318.87L484.10,318.87L483.94,318.87L483.78,318.88L483.62,318.88L483.47,318.89L483.31,318.89L483.15,318.90L483.00,318.90L482.84,318.91L482.68,318.91L482.53,318.92L482.37,318.93L482.22,318.93L482.06,318.94L481.91,318.95L481.75,318.95L481.60,318.96L481.44,318.97L481.29,318.98L481.14,318.99L480.98,319.00L480.83,319.00L480.68,319.01L480.53,319.02L480.38,319.03L480.23,319.04L480.07,319.05L479.92,319.07L479.78,319.08L479.63,319.09L479.48,319.10L479.33,319.11L479.18,319.12L479.04,319.14L478.89,319.15L478.74,319.16L478.60,319.17L478.45,319.19L478.31,319.20L478.16,319.22L478.02,319.23L477.88,319.24L477.74,319.26L477.60,319.27L477.46,319.29L477.32,319.30L477.18,319.32M475.30,319.57L475.17,319.59L475.05,319.61L474.92,319.62L474.79,319.64L474.67,319.67L474.55,319.69L474.42,319.71L474.30,319.73L474.18,319.75L474.06,319.77L473.94,319.79L473.82,319.81L473.70,319.84L473.59,319.86L473.47,319.88L473.36,319.90L473.24,319.93L473.13,319.95L473.02,319.97L472.91,320.00L472.80,320.02L472.69,320.04L472.58,320.07L472.47,320.09L472.37,320.12L472.26,320.14L472.16,320.16L472.06,320.19L471.96,320.21L471.86,320.24L471.76,320.27L471.66,320.29L471.56,320.32L471.46,320.34L471.37,320.37L471.28,320.40L471.18,320.42L471.09,320.45L471.00,320.48L470.91,320.50L470.82,320.53L470.74,320.56L470.65,320.59L470.57,320.61L470.48,320.64L470.40,320.67L470.32,320.70L470.24,320.73L470.16,320.75L470.08,320.78L470.01,320.81L469.93,320.84L469.86,320.87L469.78,320.90L469.71,320.93L469.64,320.96L469.57,320.99L469.51,321.02L469.44,321.04L469.37,321.07L469.31,321.10L469.25,321.13L469.19,321.16L469.13,321.20L469.07,321.23L469.01,321.26L468.95,321.29L468.90,321.32L468.84,321.35L468.79,321.38L468.74,321.41L468.69,321.44L468.64,321.47L468.60,321.50L468.55,321.53L468.51,321.57L468.46,321.60L468.42,321.63L468.38,321.66L468.34,321.69L468.30,321.72L468.27,321.76L468.23,321.79L468.20,321.82L468.17,321.85L468.13,321.88L468.10,321.92L468.08,321.95L468.05,321.98L468.02,322.01L468.00,322.05L467.98,322.08L467.96,322.11L467.94,322.14L467.92,322.18L467.90,322.21L467.88,322.24L467.87,322.27L467.86,322.31L467.84,322.34L467.83,322.37L467.82,322.40L467.82,322.44L467.81,322.47L467.81,322.50L467.80,322.53L467.80,322.57L467.80,322.60L467.80,322.63L467.80,322.67L467.81,322.70L467.81,322.73L467.82,322.76L467.82,322.80L467.83,322.83L467.84,322.86L467.86,322.89L467.87,322.93L467.88,322.96L467.90,322.99L467.92,323.02L467.94,323.06L467.96,323.09L467.98,323.12L468.00,323.15L468.02,323.19L468.05,323.22L468.08,323.25L468.10,323.28L468.13,323.32L468.17,323.35L468.20,323.38L468.23,323.41L468.27,323.44L468.30,323.48L468.34,323.51L468.38,323.54L468.42,323.57L468.46,323.60L468.51,323.63L468.55,323.67L468.60,323.70L468.64,323.73L468.69,323.76L468.74,323.79L468.79,323.82L468.84,323.85L468.90,323.88L468.95,323.91L469.01,323.94L469.07,323.97L469.13,324.00L469.19,324.04L469.25,324.07L469.31,324.10L469.37,324.13L469.44,324.16L469.51,324.18L469.57,324.21L469.64,324.24L469.71,324.27L469.78,324.30L469.86,324.33L469.93,324.36L470.01,324.39L470.08,324.42L470.16,324.45L470.24,324.48L470.32,324.50L470.40,324.53L470.48,324.56L470.57,324.59L470.65,324.61L470.74,324.64L470.82,324.67L470.91,324.70L471.00,324.72L471.09,324.75L471.18,324.78L471.28,324.80L471.37,324.83L471.46,324.86L471.56,324.88L471.66,324.91L471.76,324.93L471.86,324.96L471.96,324.99L472.06,325.01L472.16,325.04L472.26,325.06L472.37,325.08L472.47,325.11L472.58,325.13L472.69,325.16L472.80,325.18L472.91,325.20L473.02,325.23L473.13,325.25L473.24,325.27L473.36,325.30L473.47,325.32L473.59,325.34L473.70,325.36L473.82,325.39L473.94,325.41L474.06,325.43L474.18,325.45L474.30,325.47L474.42,325.49L474.55,325.51L474.67,325.53L474.79,325.56L474.92,325.58L475.05,325.59L475.17,325.61L475.30,325.63L475.43,325.65L475.56,325.67L475.69,325.69L475.82,325.71L475.95,325.73L476.09,325.75L476.22,325.76L476.36,325.78L476.49,325.80L476.63,325.81L476.76,325.83L476.90,325.85L477.04,325.86L477.18,325.88L477.32,325.90L477.46,325.91L477.60,325.93L477.74,325.94L477.88,325.96L478.02,325.97L478.16,325.98L478.31,326.00L478.45,326.01L478.60,326.03L478.74,326.04L478.89,326.05L479.04,326.06L479.18,326.08L479.33,326.09L479.48,326.10L479.63,326.11L479.78,326.12L479.92,326.13L480.07,326.15L480.23,326.16L480.38,326.17L480.53,326.18L480.68,326.19L480.83,326.20L480.98,326.20L481.14,326.21L481.29,326.22L481.44,326.23L481.60,326.24L481.75,326.25L481.91,326.25L482.06,326.26L482.22,326.27L482.37,326.27L482.53,326.28L482.68,326.29L482.84,326.29L483.00,326.30L483.15,326.30L483.31,326.31L483.47,326.31L483.62,326.32L483.78,326.32L483.94,326.33L484.10,326.33L484.26,326.33L484.41,326.34L484.57,326.34L484.73,326.34L484.89,326.34L485.05,326.34L485.21,326.35L485.36,326.35L485.52,326.35L485.68,326.35L485.84,326.35L486.00,326.35L486.16,326.35L486.32,326.35L486.48,326.35L486.64,326.35L486.79,326.35L486.95,326.34L487.11,326.34L487.27,326.34L487.43,326.34L487.59,326.34L487.74,326.33L487.90,326.33L488.06,326.33L488.22,326.32L488.38,326.32L488.53,326.31L488.69,326.31L488.85,326.30M495.37,325.81L495.51,325.80L495.64,325.78L495.78,325.76L495.91,325.75L496.05,325.73L496.18,325.71L496.31,325.69L496.44,325.67L496.57,325.65L496.70,325.63L496.83,325.61L496.95,325.59L497.08,325.58L497.21,325.56L497.33,325.53L497.45,325.51L497.58,325.49L497.70,325.47L497.82,325.45L497.94,325.43L498.06,325.41L498.18,325.39L498.30,325.36L498.41,325.34L498.53,325.32L498.64,325.30L498.76,325.27L498.87,325.25L498.98,325.23L499.09,325.20L499.20,325.18L499.31,325.16L499.42,325.13L499.53,325.11L499.63,325.08L499.74,325.06L499.84,325.04L499.94,325.01L500.04,324.99L500.14,324.96L500.24,324.93L500.34,324.91L500.44,324.88L500.54,324.86L500.63,324.83L500.72,324.80L500.82,324.78L500.91,324.75L501.00,324.72L501.09,324.70L501.18,324.67L501.26,324.64L501.35,324.61L501.43,324.59L501.52,324.56L501.60,324.53L501.68,324.50L501.76,324.48L501.84,324.45L501.92,324.42L501.99,324.39L502.07,324.36L502.14,324.33L502.22,324.30L502.29,324.27L502.36,324.24L502.43,324.21L502.49,324.18L502.56,324.16L502.63,324.13L502.69,324.10L502.75,324.07L502.81,324.04L502.87,324.00L502.93,323.97L502.99,323.94L503.05,323.91L503.10,323.88L503.16,323.85L503.21,323.82L503.26,323.79L503.31,323.76L503.36,323.73L503.40,323.70L503.45,323.67L503.49,323.63L503.54,323.60L503.58,323.57L503.62,323.54L503.66,323.51L503.70,323.48L503.73,323.44L503.77,323.41L503.80,323.38L503.83,323.35L503.87,323.32L503.90,323.28L503.92,323.25L503.95,323.22L503.98,323.19L504.00,323.15L504.02,323.12L504.04,323.09L504.06,323.06L504.08,323.02L504.10,322.99L504.12,322.96L504.13,322.93L504.14,322.89L504.16,322.86L504.17,322.83L504.18,322.80L504.18,322.76L504.19,322.73L504.19,322.70L504.20,322.67L504.20,322.63L504.20,322.60" fill="none" stroke="#f36f6f" stroke-width="1.6" stroke-linecap="butt"/>
<text x="99.8" y="125.6" font-size="15.8" fill="#2e2e2e" text-anchor="start" >cG</text>
<text x="128.6" y="125.6" font-size="15.8" fill="#2e2e2e" text-anchor="start" >Бедро (на 5 см ниже паха)</text>
<line x1="328.2" y1="121.8" x2="421.3" y2="121.8" stroke="#505050" stroke-width="1.2"/>
<text x="430.3" y="127.6" font-size="15.8" fill="#2e2e2e" text-anchor="start" >cG</text>
<text x="99.5" y="223.5" font-size="15.8" fill="#2e2e2e" text-anchor="start" >cD</text>
<text x="127.9" y="223.5" font-size="15.8" fill="#2e2e2e" text-anchor="start" >Окружность под коленом</text>
<text x="126.1" y="245.2" font-size="15.8" fill="#2e2e2e" text-anchor="start" >(на 2-3 см ниже колена)</text>
<line x1="315.9" y1="227.1" x2="421.5" y2="227.1" stroke="#505050" stroke-width="1.2"/>
<text x="430.3" y="233.2" font-size="15.8" fill="#2e2e2e" text-anchor="start" >cD</text>
<text x="99.5" y="285.1" font-size="15.8" fill="#2e2e2e" text-anchor="start" >cC</text>
<text x="128.3" y="285.1" font-size="15.8" fill="#2e2e2e" text-anchor="start" >Самая широкая часть голени</text>
<polyline points="357,279.4 362,279.4 362,258.6 421.5,258.6" fill="none" stroke="#505050" stroke-width="1.2"/>
<text x="430.3" y="264.1" font-size="15.8" fill="#2e2e2e" text-anchor="start" >cC</text>
<text x="99.9" y="334" font-size="15.8" fill="#2e2e2e" text-anchor="start" >cB</text>
<text x="126.7" y="334" font-size="15.8" fill="#2e2e2e" text-anchor="start" >Лодыжка</text>
<text x="126.1" y="355.1" font-size="15.8" fill="#2e2e2e" text-anchor="start" >(самая узкая точка над лодыжкой)</text>
<line x1="315.9" y1="325.2" x2="421.5" y2="325.2" stroke="#505050" stroke-width="1.2"/>
<text x="430.7" y="331.2" font-size="15.8" fill="#2e2e2e" text-anchor="start" >cB</text>
<text x="543.8" y="104.8" font-size="15.8" fill="#2e2e2e" text-anchor="start" >IK</text>
<text x="543.3" y="127.6" font-size="15.8" fill="#2e2e2e" text-anchor="start" >IG</text>
<text x="544.5" y="233.4" font-size="15.8" fill="#2e2e2e" text-anchor="start" >ID</text>
<line x1="533" y1="99.8" x2="541.5" y2="99.8" stroke="#505050" stroke-width="1.2"/><polyline points="536.5,97.0 533,99.8 536.5,102.6" fill="none" stroke="#505050" stroke-width="1.2"/>
<line x1="533" y1="121.3" x2="541.5" y2="121.3" stroke="#505050" stroke-width="1.2"/><polyline points="536.5,118.5 533,121.3 536.5,124.1" fill="none" stroke="#505050" stroke-width="1.2"/>
<line x1="509.5" y1="227.7" x2="541" y2="227.7" stroke="#505050" stroke-width="1.2"/><polyline points="513.7,224.33999999999997 509.5,227.7 513.7,231.06" fill="none" stroke="#505050" stroke-width="1.2"/>
<line x1="565.3" y1="227.4" x2="565.3" y2="365.9" stroke="#505050" stroke-width="1.2"/><polyline points="562.3,230.9 565.3,227.4 568.3,230.9" fill="none" stroke="#505050" stroke-width="1.2"/><polyline points="562.0999999999999,362.29999999999995 565.3,365.9 568.5,362.29999999999995" fill="none" stroke="#505050" stroke-width="1.3"/>
<line x1="583.2" y1="121.3" x2="583.2" y2="365.9" stroke="#505050" stroke-width="1.2"/><polyline points="580.2,124.8 583.2,121.3 586.2,124.8" fill="none" stroke="#505050" stroke-width="1.2"/><polyline points="580.0,362.29999999999995 583.2,365.9 586.4000000000001,362.29999999999995" fill="none" stroke="#505050" stroke-width="1.3"/>
<line x1="604.0" y1="99.8" x2="604.0" y2="365.9" stroke="#505050" stroke-width="1.2"/><polyline points="601.0,103.3 604.0,99.8 607.0,103.3" fill="none" stroke="#505050" stroke-width="1.2"/><polyline points="600.8,362.29999999999995 604.0,365.9 607.2,362.29999999999995" fill="none" stroke="#505050" stroke-width="1.3"/>
<line x1="565.3" y1="365.9" x2="604.6" y2="365.9" stroke="#505050" stroke-width="1.4"/>
<line x1="561.4" y1="99.8" x2="604" y2="99.8" stroke="#505050" stroke-width="1.2"/>
<line x1="561.4" y1="121.3" x2="583.2" y2="121.3" stroke="#505050" stroke-width="1.2"/>
<line x1="563" y1="227.7" x2="565.2" y2="227.7" stroke="#505050" stroke-width="1.2"/>
<line x1="613.5" y1="100.3" x2="673.7" y2="100.3" stroke="#505050" stroke-width="1.2"/>
<line x1="613.5" y1="121.1" x2="673.7" y2="121.1" stroke="#505050" stroke-width="1.2"/>
<line x1="613.5" y1="227.1" x2="673.7" y2="227.1" stroke="#505050" stroke-width="1.2"/>
<text x="683.7" y="104.6" font-size="15.8" fill="#2e2e2e" text-anchor="start" >IK</text>
<text x="707.1" y="104.6" font-size="15.8" fill="#2e2e2e" text-anchor="start" >Длина ноги до паха</text>
<text x="683.7" y="125.7" font-size="15.8" fill="#2e2e2e" text-anchor="start" >IG</text>
<text x="708.7" y="125.7" font-size="15.8" fill="#2e2e2e" text-anchor="start" >Длина ноги</text>
<text x="683.6" y="233.7" font-size="15.8" fill="#2e2e2e" text-anchor="start" >ID</text>
<text x="708.2" y="233.7" font-size="15.8" fill="#2e2e2e" text-anchor="start" >Длина ноги от основания</text>
<text x="705.3" y="255.6" font-size="15.8" fill="#2e2e2e" text-anchor="start" >пятки до чуть ниже колена</text>
<text x="50.0" y="431.6" font-size="15.7" fill="#2e2e2e" text-anchor="start" >таблица окружностей</text>
<text x="508.9" y="431.6" font-size="15.7" fill="#2e2e2e" text-anchor="start" >таблица длины</text>
</svg>
</body></html>
